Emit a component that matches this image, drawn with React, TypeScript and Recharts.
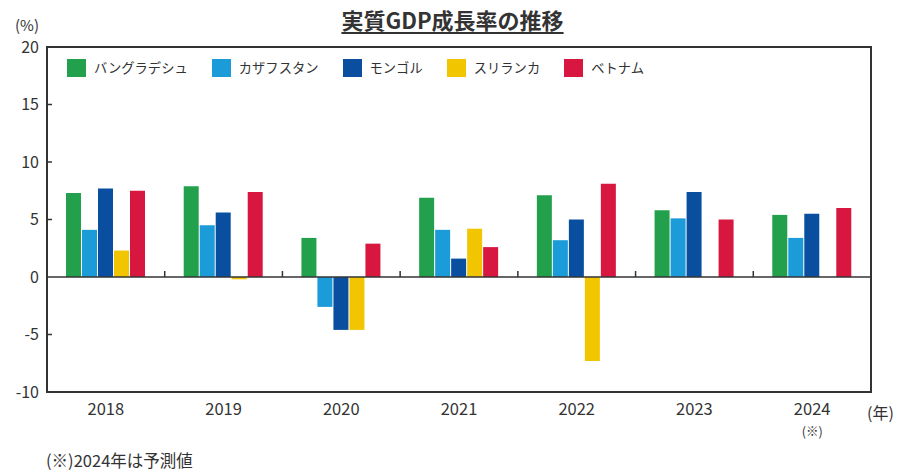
import React from "react";
import {
  BarChart,
  Bar,
  XAxis,
  YAxis,
  ReferenceLine,
  ReferenceArea,
} from "recharts";

// 年次
const years = ["2018", "2019", "2020", "2021", "2022", "2023", "2024"];
const FORECAST_YEAR = "2024";

// 実質GDP成長率 (%)
const bangladesh = [7.3, 7.9, 3.4, 6.9, 7.1, 5.8, 5.4];
const kazakhstan = [4.1, 4.5, -2.6, 4.1, 3.2, 5.1, 3.4];
const mongolia = [7.7, 5.6, -4.6, 1.6, 5.0, 7.4, 5.5];
const sriLanka = [2.3, -0.2, -4.6, 4.2, -7.3, null, null];
const vietnam = [7.5, 7.4, 2.9, 2.6, 8.1, 5.0, 6.0];

const yTicks = [-10, -5, 0, 5, 10, 15, 20];
const Y_MIN = -10;
const Y_MAX = 20;

const series = [
  { key: "bangladesh", name: "バングラデシュ", color: "#23a04b" },
  { key: "kazakhstan", name: "カザフスタン", color: "#1b9bd7" },
  { key: "mongolia", name: "モンゴル", color: "#0a4f9f" },
  { key: "sriLanka", name: "スリランカ", color: "#f1c500" },
  { key: "vietnam", name: "ベトナム", color: "#d7173f" },
];

const data = years.map((year, i) => ({
  year,
  bangladesh: bangladesh[i],
  kazakhstan: kazakhstan[i],
  mongolia: mongolia[i],
  sriLanka: sriLanka[i],
  vietnam: vietnam[i],
}));

const FONT = '"Noto Sans CJK JP", "Noto Sans", sans-serif';
const INK = "#333";

function YTick(props: any) {
  const { x, y, payload } = props;
  const v = payload.value;
  return (
    <g>
      {v !== Y_MIN && v !== Y_MAX && v !== 0 && (
        <line x1={x} x2={x + 5} y1={y} y2={y} stroke={INK} strokeWidth={1.5} />
      )}
      <text
        x={x - 8}
        y={y}
        dy={5.5}
        textAnchor="end"
        fontSize={16}
        fontFamily={FONT}
        fill={INK}
      >
        {v}
      </text>
    </g>
  );
}

function XTick(props: any) {
  const { x, y, payload } = props;
  return (
    <g>
      <text
        x={x}
        y={y + 23}
        textAnchor="middle"
        fontSize={16.5}
        fontFamily={FONT}
        fill={INK}
      >
        {payload.value}
      </text>
      {payload.value === FORECAST_YEAR && (
        <text
          x={x}
          y={y + 44}
          textAnchor="middle"
          fontSize={12.5}
          fontFamily={FONT}
          fill={INK}
        >
          (※)
        </text>
      )}
    </g>
  );
}

// 区切り目盛り（0線上の短い縦線）
function SeparatorTick(props: any) {
  const { x1, y1, y2 } = props;
  const top = Math.min(y1, y2);
  const bottom = Math.max(y1, y2);
  const zeroY = top + ((bottom - top) * (Y_MAX - 0)) / (Y_MAX - Y_MIN);
  return (
    <line x1={x1} x2={x1} y1={zeroY - 6} y2={zeroY} stroke={INK} strokeWidth={1.5} />
  );
}

function LegendBox() {
  return (
    <div
      style={{
        position: "absolute",
        top: 58,
        left: 67,
        display: "flex",
        alignItems: "center",
        fontFamily: FONT,
      }}
    >
      {series.map((s) => (
        <div
          key={s.key}
          style={{ display: "flex", alignItems: "center", marginRight: 24 }}
        >
          <div
            style={{
              width: 19,
              height: 18,
              background: s.color,
              marginRight: 8,
            }}
          />
          <span style={{ fontSize: 13.3, color: INK, whiteSpace: "nowrap" }}>
            {s.name}
          </span>
        </div>
      ))}
    </div>
  );
}

export default function App() {
  return (
    <div
      style={{
        position: "absolute",
        left: 0,
        top: 0,
        width: 901,
        height: 473,
        background: "#fff",
        fontFamily: FONT,
        color: INK,
      }}
    >
      <div
        style={{
          position: "absolute",
          top: 5,
          left: 2,
          width: 901,
          textAlign: "center",
          fontSize: 22,
          fontWeight: 700,
          textDecoration: "underline",
          textUnderlineOffset: 3,
          textDecorationThickness: 1.5,
          lineHeight: "28px",
        }}
      >
        実質GDP成長率の推移
      </div>
      <div style={{ position: "absolute", left: 15, top: 15, fontSize: 15, lineHeight: "20px" }}>
        (%)
      </div>
      <div style={{ position: "absolute", left: 867, top: 401, fontSize: 16, lineHeight: "22px" }}>
        (年)
      </div>
      <div style={{ position: "absolute", left: 46, top: 450, fontSize: 16.5, lineHeight: "20px" }}>
        (※)2024年は予測値
      </div>

      <BarChart
        width={901}
        height={473}
        data={data}
        margin={{ top: 47, right: 30, bottom: 0, left: 0 }}
        barSize={15}
        barGap={1}
      >
        <XAxis
          dataKey="year"
          height={81}
          tickLine={false}
          tickSize={0}
          tickMargin={0}
          axisLine={false}
          tick={<XTick />}
          interval={0}
        />
        <YAxis
          width={47}
          domain={[Y_MIN, Y_MAX]}
          ticks={yTicks}
          interval={0}
          tickLine={false}
          tickSize={0}
          tickMargin={0}
          axisLine={false}
          tick={<YTick />}
        />
        {series.map((s) => (
          <Bar
            key={s.key}
            dataKey={s.key}
            name={s.name}
            fill={s.color}
            isAnimationActive={false}
          />
        ))}
        <ReferenceLine y={0} stroke={INK} strokeWidth={1.5} />
        {years.slice(1).map((yr) => (
          <ReferenceLine
            key={yr}
            x={yr}
            position="start"
            shape={<SeparatorTick />}
          />
        ))}
        <ReferenceArea
          y1={Y_MIN}
          y2={Y_MAX}
          fill="none"
          stroke={INK}
          strokeWidth={2}
          ifOverflow="visible"
        />
      </BarChart>
      <LegendBox />
    </div>
  );
}
